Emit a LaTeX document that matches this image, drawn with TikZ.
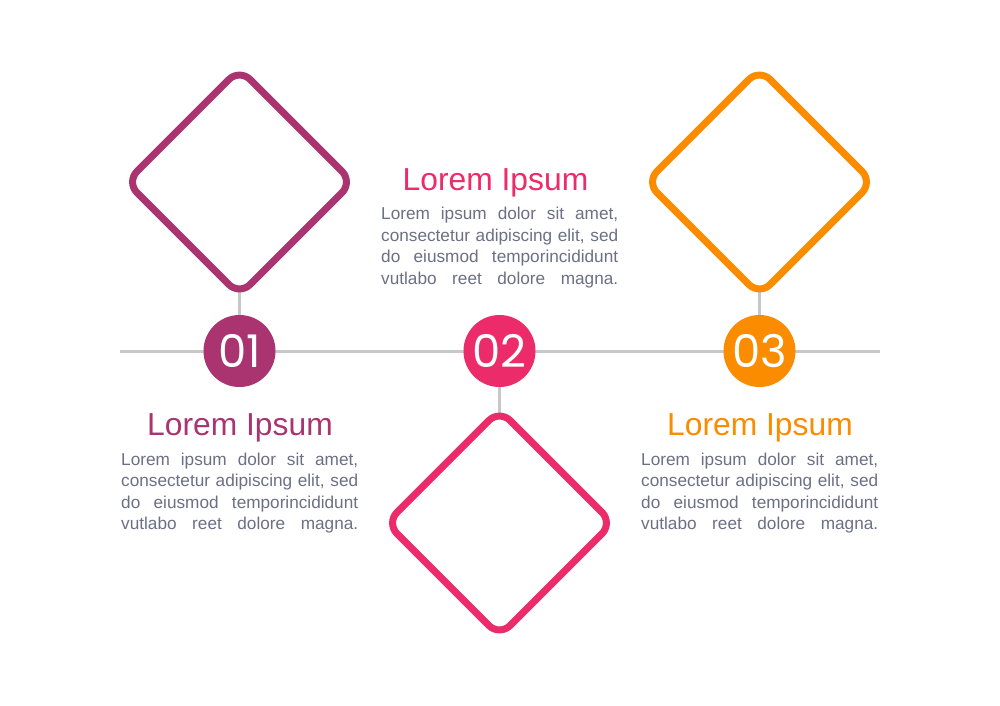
\documentclass[tikz,border=0pt]{standalone}
\usepackage{fontspec}
\setmainfont{Liberation Sans}
\newfontfamily\numfont{Poppins}
\usetikzlibrary{backgrounds}

\definecolor{plum}{HTML}{A9346F}
\definecolor{rose}{HTML}{EC2B6A}
\definecolor{amber}{HTML}{FB8C00}
\definecolor{ink}{HTML}{6B7085}
\definecolor{rail}{HTML}{C8C8C8}

\newcommand{\fullline}[1]{\makebox[237pt][s]{\spaceskip=0pt\xspaceskip=0pt\relax #1}}
\newcommand{\loremtext}{\fullline{Lorem ipsum dolor sit amet,}\\
  \fullline{consectetur adipiscing elit, sed}\\
  \fullline{do eiusmod temporincididunt}\\
  \fullline{vutlabo reet dolore magna.}}

\begin{document}
\begin{tikzpicture}[x=1pt,y=-1pt,
    tile/.style={draw=#1,line width=7pt,fill=white,rounded corners=15pt,rotate=45,minimum size=160pt,inner sep=0pt},
    num/.style={circle,fill=#1,minimum size=72pt,inner sep=0pt,text=white,font=\numfont\fontsize{45}{45}\selectfont},
    link/.style={draw=rail,line width=3pt},
    head/.style={text=#1,inner sep=0pt,anchor=base,font=\fontsize{31.8}{31.8}\selectfont},
    body/.style={text=ink,inner sep=0pt,anchor=base west,text width=237pt,align=left,font=\fontsize{17.2}{21.6}\selectfont}]

    \useasboundingbox (0,0) rectangle (1000,705);

    \coordinate (railL) at (120,351);
    \coordinate (railR) at (880,351);

    \node[tile=plum] (d1) at (239.5,182) {};
    \node[tile=rose] (d2) at (499.5,523) {};
    \node[tile=amber] (d3) at (759.5,182) {};

    \node[num=plum] (c1) at (239.5,351) {01};
    \node[num=rose] (c2) at (499.5,351) {02};
    \node[num=amber] (c3) at (759.5,351) {03};

    \node[head=plum] (t1) at (240,435) {Lorem Ipsum};
    \node[head=rose] (t2) at (495.5,190) {Lorem Ipsum};
    \node[head=amber] (t3) at (760,435) {Lorem Ipsum};

    \node[body] (b1) at (121,465) {\loremtext};
    \node[body] (b2) at (381,219.5) {\loremtext};
    \node[body] (b3) at (641,465) {\loremtext};

    \begin{scope}[on background layer]
      \fill[white] (0,0) rectangle (1000,705);
      \path[link] (railL) -- (railR);
      \path[link] (d1.center) -- (c1.center);
      \path[link] (d2.center) -- (c2.center);
      \path[link] (d3.center) -- (c3.center);
    \end{scope}
  \end{tikzpicture}
\end{document}
